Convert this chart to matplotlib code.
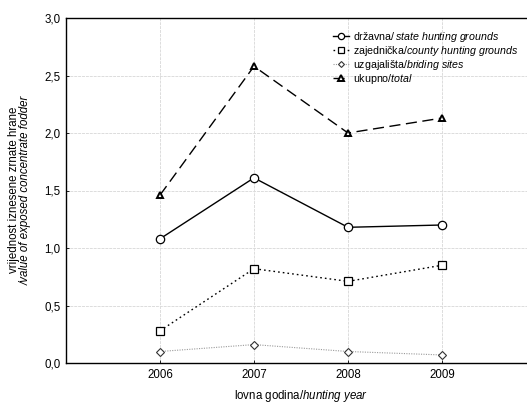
import matplotlib
matplotlib.use("Agg")
import matplotlib.pyplot as plt

plt.rcParams['font.family'] = ['Liberation Sans', 'DejaVu Sans']
plt.rcParams['mathtext.fontset'] = 'custom'
plt.rcParams['mathtext.rm'] = 'Liberation Sans'
plt.rcParams['mathtext.it'] = 'Liberation Sans:italic'

years = [2006, 2007, 2008, 2009]
drzavna = [1.08, 1.61, 1.18, 1.20]
zajednicka = [0.28, 0.82, 0.71, 0.85]
uzgajalista = [0.10, 0.16, 0.10, 0.07]
ukupno = [1.46, 2.58, 2.00, 2.13]

yticks = [0.0, 0.5, 1.0, 1.5, 2.0, 2.5, 3.0]
ytick_labels = ["0,0", "0,5", "1,0", "1,5", "2,0", "2,5", "3,0"]
xtick_labels = ["2006", "2007", "2008", "2009"]

labels = [
    r"državna/$\it{\,state\ hunting\ grounds}$",
    r"zajednička/$\it{county\ hunting\ grounds}$",
    r"uzgajališta/$\it{briding\ sites}$",
    r"ukupno/$\it{total}$",
]

FS = 8.3
LFS = 7.7

fig = plt.figure(figsize=(5.27, 4.03), dpi=100)
ax = fig.add_axes([66/527, 40/403, 470/527, 345/403])

ax.plot(years, drzavna, color='black', lw=1.0, ls='-', marker='o', ms=6,
        mfc='white', mec='black', mew=0.9, label=labels[0])
ax.plot(years, zajednicka, color='black', lw=1.0, ls=(0, (1.2, 2.2)), marker='s', ms=6,
        mfc='white', mec='black', mew=0.9, label=labels[1])
ax.plot(years, uzgajalista, color='#9a9a9a', lw=0.8, ls=(0, (1, 1.2)), marker='D', ms=4,
        mfc='white', mec='#333333', mew=0.8, label=labels[2])
ax.plot(years, ukupno, color='black', lw=1.0, ls=(0, (8, 4)), marker='^', ms=5,
        mfc='white', mec='black', mew=1.4, label=labels[3])

ax.set_xlim(2005, 2010)
ax.set_ylim(0, 3.0)
ax.set_xticks(years)
ax.set_xticklabels(xtick_labels)
ax.set_yticks(yticks)
ax.set_yticklabels(ytick_labels)
ax.tick_params(axis='both', labelsize=FS, length=2, width=0.6, direction='in', pad=4, colors='black')
ax.grid(True, color='#dcdcdc', lw=0.7, ls=(0, (3, 1)))
ax.set_axisbelow(True)
for s in ['left', 'bottom', 'top']:
    ax.spines[s].set_linewidth(1.0)
ax.spines['right'].set_visible(False)

ax.set_xlabel(r"lovna godina/$\it{hunting\ year}$", fontsize=FS, labelpad=5)
fig.text(14/527, 213/403, "vrijednost iznesene zrnate hrane", rotation=90,
         ha='center', va='center', fontsize=FS)
fig.text(26/527, 213/403, "/value of exposed concentrate fodder", rotation=90,
         ha='center', va='center', fontsize=FS, style='italic')

leg = ax.legend(loc='upper left', bbox_to_anchor=((333 - 66)/470, (363 - 30)/345), frameon=False,
                fontsize=LFS, handlelength=1.5, handletextpad=0.35, labelspacing=0.0,
                borderaxespad=0, borderpad=0, markerscale=0.75)

fig.savefig("out.png", dpi=100)
